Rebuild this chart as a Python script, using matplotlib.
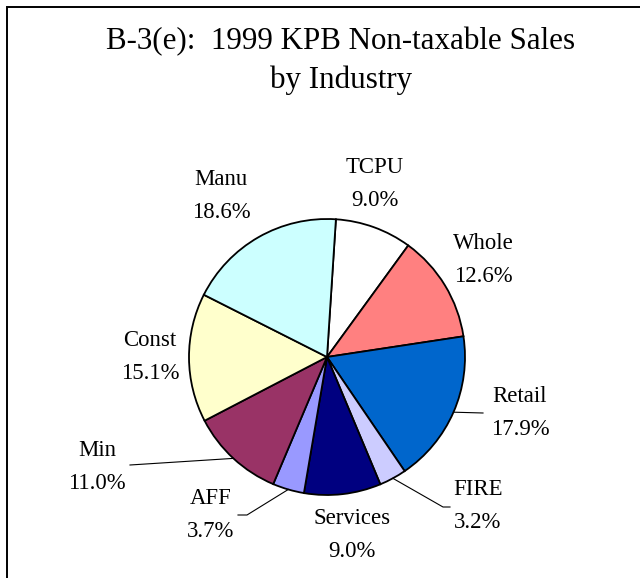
import numpy as np
import matplotlib.pyplot as plt
from matplotlib.patches import Rectangle

# datos del grafico (orden de las agujas del reloj desde arriba)
industrias = ['TCPU', 'Whole', 'Retail', 'FIRE', 'Services', 'AFF', 'Min', 'Const', 'Manu']
porcentajes = [9.0, 12.6, 17.9, 3.2, 9.0, 3.7, 11.0, 15.1, 18.6]
colores = ['#FFFFFF', '#FF8080', '#0066CC', '#CCCCFF', '#000080',
           '#9999FF', '#993366', '#FFFFCC', '#CCFFFF']
titulo = 'B-3(e):  1999 KPB Non-taxable Sales\nby Industry'

# posiciones de las etiquetas (pixeles, y hacia abajo)
pos_etiquetas = {
    'TCPU': (375, 184), 'Whole': (483, 260), 'Retail': (520, 413),
    'FIRE': (478, 506), 'Services': (352, 535), 'AFF': (211, 515),
    'Min': (97, 467), 'Const': (150, 357), 'Manu': (221, 196),
}
# fin de las lineas guia (pixeles)
guias = {
    'Retail': [(483, 413)],
    'FIRE': [(443, 507), (450, 507)],
    'AFF': [(247, 515), (238, 515)],
    'Min': [(130, 465)],
}

W, H = 640, 578
cx, cy, R = 327, 357, 138
inicio = 86.3

plt.rcParams['font.family'] = ['Liberation Serif', 'DejaVu Serif']
fig = plt.figure(figsize=(W / 100, H / 100), dpi=100)
ax = fig.add_axes([0, 0, 1, 1])

ax.pie(porcentajes, colors=colores, startangle=inicio, counterclock=False,
       radius=R, center=(cx, H - cy), frame=True,
       wedgeprops=dict(edgecolor='black', linewidth=1.3))
ax.set_xlim(0, W)
ax.set_ylim(0, H)
ax.axis('off')

# marco (el borde derecho e inferior quedan fuera de la imagen)
ax.add_patch(Rectangle((7, -20), W + 20, H - 7 + 20, fill=False,
                       edgecolor='black', linewidth=1.4, clip_on=True))

ax.text(341, H - 61, titulo, ha='center', va='center', fontsize=22.3,
        linespacing=1.38)

total = sum(porcentajes)
acum = 0
for nombre, p in zip(industrias, porcentajes):
    medio = inicio - (acum + p / 2) / total * 360
    acum += p
    x, y = pos_etiquetas[nombre]
    ax.text(x, H - y, '%s\n%.1f%%' % (nombre, p), ha='center', va='center',
            fontsize=16.4, linespacing=1.7)
    if nombre in guias:
        px = cx + R * np.cos(np.radians(medio))
        py = H - cy + R * np.sin(np.radians(medio))
        xs = [px] + [q[0] for q in guias[nombre]]
        ys = [py] + [H - q[1] for q in guias[nombre]]
        ax.plot(xs, ys, color='black', linewidth=0.8)

fig.savefig('out.png', dpi=100)
